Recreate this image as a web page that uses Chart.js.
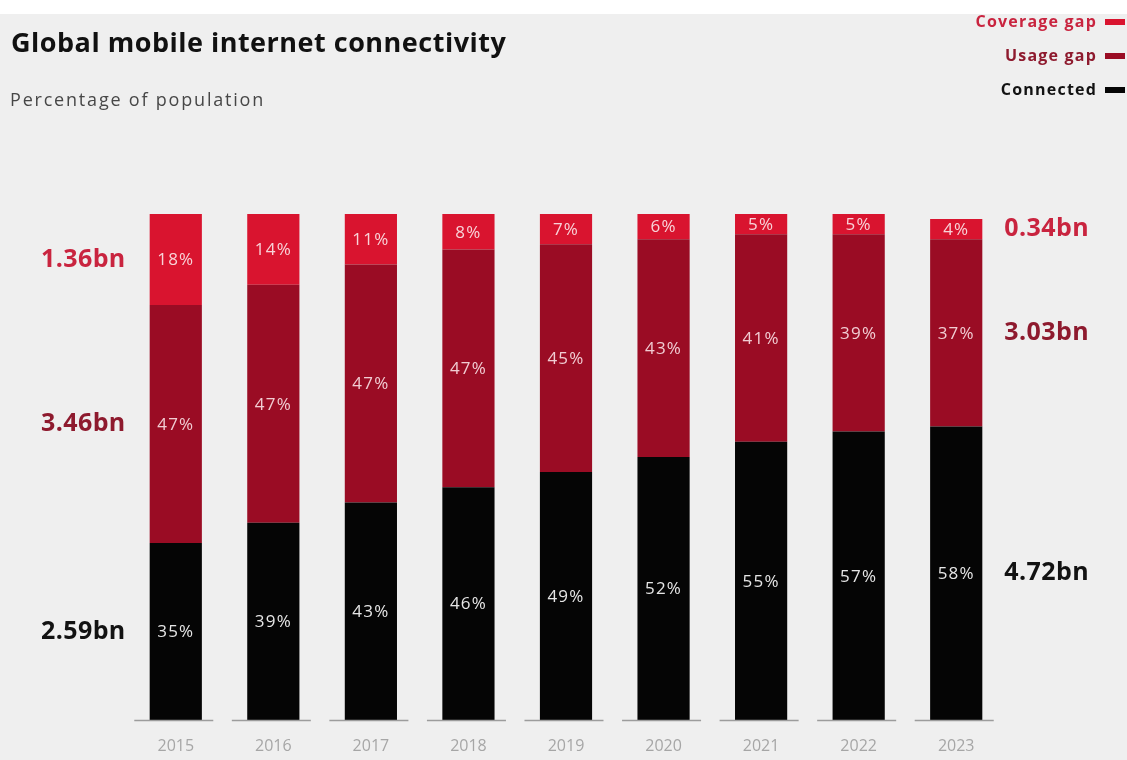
<!DOCTYPE html>
<html>
<head>
<meta charset="utf-8">
<script src="https://cdn.jsdelivr.net/npm/chart.js@4"></script>
<style>
  html, body { margin: 0; padding: 0; background: #fff; }
  body { width: 1127px; height: 760px; position: relative; overflow: hidden; font-family: 'Open Sans', sans-serif; }
  .panel { position: absolute; left: 0; top: 14px; width: 1127px; height: 746px; background: #efefef; }
  .title { position: absolute; left: 11px; top: 9px; font-size: 27px; font-weight: 700; color: #111; letter-spacing: 0.5px; }
  .subtitle { position: absolute; left: 10px; top: 73px; font-size: 18px; color: #474747; letter-spacing: 1.8px; }
  .chart-box { position: absolute; left: 0; top: 0; width: 1127px; height: 746px; }
</style>
</head>
<body>
<div class="panel">
  <div class="chart-box"><canvas id="chart"></canvas></div>
  <div class="title">Global mobile internet connectivity</div>
  <div class="subtitle">Percentage of population</div>
</div>
<script>
// Share of world population by connectivity status
const years = ['2015', '2016', '2017', '2018', '2019', '2020', '2021', '2022', '2023'];
const connected   = [35, 39, 43, 46, 49, 52, 55, 57, 58];
const usageGap    = [47, 47, 47, 47, 45, 43, 41, 39, 37];
const coverageGap = [18, 14, 11, 8, 7, 6, 5, 5, 4];

// People in each group, first and last year (datasets order: connected, usage, coverage)
const firstYearTotals = ['2.59bn', '3.46bn', '1.36bn'];
const lastYearTotals  = ['4.72bn', '3.03bn', '0.34bn'];

const seriesNames  = ['Connected', 'Usage gap', 'Coverage gap'];
const barColors    = ['#050505', '#9a0c24', '#d9142f'];
const textColors   = ['#121212', '#8e1a2e', '#c9243f'];
const insideColors = ['#e6e6e6', '#f1cdd3', '#f8d3d8'];

const FONT = "'Open Sans', sans-serif";

// Short grey baseline under each year
const baselinePlugin = {
  id: 'baseline',
  afterDatasetsDraw(chart) {
    const { ctx, chartArea, scales: { x } } = chart;
    const half = (x.width / years.length) * 0.405;
    ctx.save();
    ctx.strokeStyle = '#9c9c9c';
    ctx.lineWidth = 1.5;
    years.forEach((_, i) => {
      const cx = x.getPixelForTick(i) - 2;
      ctx.beginPath();
      ctx.moveTo(cx - half, chartArea.bottom + 0.5);
      ctx.lineTo(cx + half, chartArea.bottom + 0.5);
      ctx.stroke();
    });
    ctx.restore();
  }
};

// Percent inside each segment + totals beside the first and last bars
const segmentLabels = {
  id: 'segmentLabels',
  afterDatasetsDraw(chart) {
    const { ctx, chartArea } = chart;
    ctx.save();
    ctx.textBaseline = 'middle';
    chart.data.datasets.forEach((ds, i) => {
      const meta = chart.getDatasetMeta(i);
      meta.data.forEach((bar, j) => {
        const p = bar.getProps(['x', 'y', 'base', 'width'], true);
        const top = Math.max(Math.min(p.y, p.base), chartArea.top);
        const bottom = Math.max(p.y, p.base);
        const cy = (top + bottom) / 2;
        ctx.font = `17px ${FONT}`;
        ctx.letterSpacing = '1.2px';
        ctx.textAlign = 'center';
        ctx.fillStyle = insideColors[i];
        ctx.fillText(ds.data[j] + '%', p.x, cy + 1);

        ctx.font = `700 25px ${FONT}`;
        ctx.letterSpacing = '0.4px';
        ctx.fillStyle = textColors[i];
        if (j === 0) {
          ctx.textAlign = 'right';
          ctx.fillText(firstYearTotals[i], p.x - p.width / 2 - 24, cy);
        }
        if (j === meta.data.length - 1) {
          ctx.textAlign = 'left';
          ctx.fillText(lastYearTotals[i], p.x + p.width / 2 + 22, cy);
        }
      });
    });
    ctx.restore();
  }
};

// Stacked legend in the top right corner, text to the left of a small swatch
const cornerLegend = {
  id: 'cornerLegend',
  afterDraw(chart) {
    const { ctx } = chart;
    const right = 1125, swatchW = 20, swatchH = 6;
    ctx.save();
    ctx.font = `700 16px ${FONT}`;
    ctx.letterSpacing = '1.2px';
    ctx.textAlign = 'right';
    ctx.textBaseline = 'middle';
    const order = chart.data.datasets.map((_, i) => i).reverse();
    order.forEach((i, row) => {
      const y = 8 + row * 34;
      ctx.fillStyle = textColors[i];
      ctx.fillText(chart.data.datasets[i].label, right - swatchW - 8, y);
      ctx.fillStyle = barColors[i];
      ctx.fillRect(right - swatchW, y - swatchH / 2, swatchW, swatchH);
    });
    ctx.restore();
  }
};

const seriesData = [connected, usageGap, coverageGap];

new Chart(document.getElementById('chart'), {
  type: 'bar',
  data: {
    labels: years,
    datasets: seriesData.map((d, i) => ({
      label: seriesNames[i],
      data: d,
      backgroundColor: barColors[i],
      borderWidth: 0,
      barPercentage: 0.535,
      categoryPercentage: 1
    }))
  },
  options: {
    responsive: true,
    maintainAspectRatio: false,
    animation: false,
    layout: { padding: { top: 200, left: 127, right: 122, bottom: 0 } },
    plugins: { legend: { display: false }, tooltip: { enabled: false } },
    scales: {
      x: {
        stacked: true,
        grid: { display: false, drawTicks: false },
        border: { display: false },
        ticks: { color: '#a6a6a6', font: { family: FONT, size: 16 }, padding: 17 },
        afterFit: s => { s.height = 40; }
      },
      y: {
        stacked: true,
        display: false,
        min: 0,
        max: 100
      }
    }
  },
  plugins: [baselinePlugin, segmentLabels, cornerLegend]
});
</script>
</body>
</html>
